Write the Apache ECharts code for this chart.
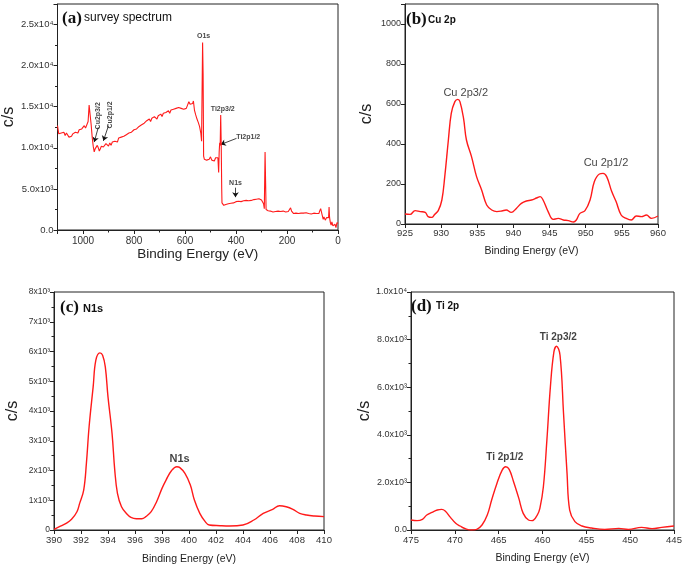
<!DOCTYPE html>
<html><head><meta charset="utf-8">
<script src="https://cdn.jsdelivr.net/npm/echarts@6/dist/echarts.min.js"></script>
<style>html,body{margin:0;padding:0;background:#fff}#c{width:685px;height:571px}</style>
</head><body><div id="c"></div>
<script>
// ---- Panel (a) survey spectrum: [binding energy eV, counts/s]
const surveyData = [[1100,12700],[1095,11700],[1090,11500],[1085,11800],[1080,11600],[1075,11900],[1070,11500],[1065,11800],[1060,11700],[1055,11300],[1050,11100],[1045,11400],[1040,11700],[1035,11500],[1030,11900],[1025,12000],[1020,11800],[1015,12200],[1010,12100],[1005,12300],[1000,12200],[995,12700],[990,12400],[985,12500],[980,13200],[976,15200],[972,14000],[968,12800],[964,11300],[960,10200],[956,9500],[952,9900],[948,10100],[944,10300],[940,10000],[936,9600],[932,9800],[928,10200],[924,10400],[920,10100],[915,9900],[910,10500],[905,10300],[900,10200],[895,10600],[890,10300],[885,10700],[880,10500],[875,10800],[870,10900],[865,10700],[860,11200],[855,11000],[850,11300],[845,11100],[840,11400],[835,11300],[830,11600],[825,11500],[820,11800],[815,11600],[810,11900],[805,11800],[800,12200],[795,12000],[790,12300],[785,12200],[780,12600],[775,12400],[770,12800],[765,12600],[760,13000],[755,12800],[750,13300],[745,13100],[740,13500],[735,13200],[730,13600],[725,13400],[720,13800],[715,13600],[710,13500],[705,13900],[700,13700],[695,14100],[690,13800],[685,14200],[680,14000],[675,14300],[670,14100],[665,14500],[660,14200],[655,14600],[650,14400],[645,14700],[640,14500],[635,14800],[630,14600],[625,14900],[620,14700],[615,14800],[610,15000],[605,14700],[600,14900],[595,14800],[590,15200],[585,15600],[580,15300],[575,15500],[570,15400],[567,15700],[563,14600],[558,14000],[553,13500],[548,13100],[543,12600],[538,11800],[535,10800],[533,17000],[531,22800],[529,19000],[527,9000],[524,8600],[520,8800],[515,8500],[510,8700],[505,8600],[500,8900],[495,8500],[490,8700],[485,8400],[480,8800],[475,8600],[471,8800],[468,7000],[466,9500],[464,10600],[462,10300],[460,14000],[458,10500],[456,5000],[455,3300],[452,3100],[448,3000],[445,3200],[440,3100],[435,3300],[430,3200],[425,3300],[420,3250],[415,3400],[410,3300],[405,3500],[400,3450],[395,3600],[390,3500],[385,3550],[380,3450],[375,3600],[370,3550],[365,3650],[360,3600],[355,3650],[350,3550],[345,3700],[340,3600],[335,3650],[330,3700],[325,3600],[320,3750],[315,3700],[310,3800],[305,3750],[300,3650],[296,3600],[292,3200],[289,2600],[286,9500],[284,6000],[282,2500],[278,2300],[274,2350],[270,2200],[265,2300],[260,2250],[255,2200],[250,2300],[245,2250],[240,2200],[235,2300],[230,2150],[225,2250],[220,2200],[215,2300],[210,2150],[205,2200],[200,2350],[195,2250],[190,2400],[186,2700],[182,2300],[178,2100],[174,2000],[170,2150],[165,2050],[160,2100],[155,2000],[150,2150],[145,2050],[140,2100],[135,2050],[130,2000],[125,2100],[120,2050],[115,2000],[110,2050],[105,1950],[100,2000],[95,2050],[90,1950],[85,2000],[80,1950],[75,2000],[72,2300],[68,2600],[65,2200],[62,1800],[58,1300],[55,1600],[50,1200],[45,1500],[40,1700],[37,1500],[35,2800],[33,1500],[30,900],[27,600],[24,1000],[20,500],[16,400],[12,700],[8,300],[4,900],[0,800]];

// ---- Panel (b) Cu 2p
const cuData = [[925,50],[925.7,48],[926.4,67],[927.1,62],[927.8,58],[928.2,37],[928.7,33],[929.1,48],[929.6,67],[930.1,120],[930.5,237],[931,420],[931.4,553],[931.9,612],[932.3,623],[932.6,612],[933.1,528],[933.5,420],[934.2,337],[934.9,237],[935.6,170],[936.3,95],[937,70],[937.7,62],[938.4,65],[939.0,70],[939.7,58],[940.4,78],[941.1,103],[941.8,115],[942.5,120],[943.2,130],[943.7,137],[944.1,120],[944.8,62],[945.5,23],[946.2,28],[946.9,20],[947.6,17],[948.3,10],[948.7,20],[949.2,53],[949.9,67],[950.6,120],[951.2,212],[951.9,250],[952.4,253],[952.9,237],[953.6,162],[954.2,112],[954.9,45],[955.6,28],[956.3,20],[957.0,40],[957.7,37],[958.4,45],[959.1,28],[960,40]];

// ---- Panel (c) N1s
const nData = [[390,22],[390.4,110],[390.9,224],[391.3,358],[391.7,615],[391.9,895],[392.2,1343],[392.4,2238],[392.6,3470],[392.9,4810],[393.1,5707],[393.4,5953],[393.6,5875],[393.8,5483],[394.0,4476],[394.3,3245],[394.5,2014],[394.7,1231],[395.0,783],[395.4,537],[395.7,425],[396.1,380],[396.5,380],[396.8,448],[397.2,615],[397.6,951],[398.0,1399],[398.3,1679],[398.7,1992],[399.1,2126],[399.3,2104],[399.7,1902],[400.1,1511],[400.4,1007],[400.8,560],[401.2,280],[401.5,168],[402.3,145],[403.0,134],[404.0,168],[404.8,336],[405.5,560],[406.2,694],[406.7,817],[407.2,783],[407.7,694],[408.2,560],[408.7,504],[409.3,470],[410,448]];

// ---- Panel (d) Ti 2p
const tiData = [[475,420],[474.3,392],[473.7,448],[473.2,629],[472.6,741],[472.0,839],[471.5,867],[471.1,797],[470.5,531],[469.9,280],[469.4,168],[468.8,56],[468.1,0],[467.5,28],[466.9,210],[466.3,629],[465.8,1259],[465.2,1958],[464.6,2517],[464.2,2657],[463.8,2545],[463.3,2028],[462.7,1329],[462.2,699],[461.6,420],[461.2,392],[460.6,629],[460.3,909],[459.9,1818],[459.5,3776],[459.1,6014],[458.7,7482],[458.4,7720],[458.0,7343],[457.6,4895],[457.2,2378],[456.9,839],[456.3,350],[455.5,168],[454.4,84],[452.9,28],[451.3,70],[450.2,28],[448.7,112],[447.5,56],[446.4,112],[445,168]];

// ---- tick labels
const yLabelsA = {0:'0.0',5000:'5.0x10³',10000:'1.0x10⁴',15000:'1.5x10⁴',20000:'2.0x10⁴',25000:'2.5x10⁴'};
const yLabelsB = {0:'0',200:'200',400:'400',600:'600',800:'800',1000:'1000'};
const yLabelsC = {0:'0',1000:'1x10³',2000:'2x10³',3000:'3x10³',4000:'4x10³',5000:'5x10³',6000:'6x10³',7000:'7x10³',8000:'8x10³'};
const yLabelsD = {0:'0.0',2000:'2.0x10³',4000:'4.0x10³',6000:'6.0x10³',8000:'8.0x10³',10000:'1.0x10⁴'};

// ---- annotations: [x, y, text]
const annotA = [[527,23550,'O1s'],[452,14700,'Ti2p3/2'],[352,11350,'Ti2p1/2'],[402,5730,'N1s']];
const annotARot = [[940,13900,'Cu2p3/2'],[893,14000,'Cu2p1/2']];
const arrowsA = [[[398,11150],[460,10400]],[[402,5150],[402,4000]],[[940,12500],[956,10700]],[[900,12700],[920,10850]]];
const annotB = [[933.4,655,'Cu 2p3/2'],[952.8,305,'Cu 2p1/2']];
const annotC = [[399.3,2390,'N1s']];
const annotD = [[458.2,8110,'Ti 2p3/2'],[464.3,3070,'Ti 2p1/2']];

const FONT = 'Liberation Sans, Arial, sans-serif';
const RED = '#ff1a1a';
const chart = echarts.init(document.getElementById('c'), null, {renderer:'canvas'});

const grids = [
  {left:56, top:4, width:282, height:226},
  {left:405, top:4, width:253, height:220},
  {left:54, top:292, width:270, height:238},
  {left:411, top:292, width:263, height:238}
].map(g => Object.assign({show:true, borderColor:'#222', borderWidth:1, backgroundColor:'transparent'}, g));

function xAx(i, min, max, interval, inverse, fs, nameFs, nameGap, minor, margin){
  return {gridIndex:i, type:'value', min, max, interval, inverse,
    name:'Binding Energy (eV)', nameLocation:'middle', nameGap,
    nameTextStyle:{fontFamily:FONT, fontSize:nameFs, color:'#222'},
    axisLine:{onZero:false, lineStyle:{color:'#222', width:1}},
    axisTick:{show:true, length:4, lineStyle:{color:'#222'}},
    minorTick:{show:!!minor, splitNumber:2, length:2.5, lineStyle:{color:'#222'}},
    splitLine:{show:false},
    axisLabel:{fontFamily:FONT, fontSize:fs, color:'#333', margin:margin,
      formatter:v => (Math.abs(v - Math.round(v/interval)*interval) < 1e-6 ? String(v) : '')}};
}
function yAx(i, min, max, interval, labels, fs, nameGap, minor){
  return {gridIndex:i, type:'value', min, max, interval,
    name:'c/s', nameLocation:'middle', nameGap, nameRotate:90,
    nameTextStyle:{fontFamily:FONT, fontSize:16, color:'#222'},
    axisLine:{show:true, onZero:false, lineStyle:{color:'#222', width:1}},
    axisTick:{show:true, length:4, lineStyle:{color:'#222'}},
    minorTick:{show:!!minor, splitNumber:2, length:2.5, lineStyle:{color:'#222'}},
    splitLine:{show:false},
    axisLabel:{fontFamily:FONT, fontSize:fs, color:'#333', margin:4,
      formatter:v => (labels[v] !== undefined ? labels[v] : '')}};
}

function lineSeries(i, data, smooth, w){
  return {type:'line', xAxisIndex:i, yAxisIndex:i, data, showSymbol:false, symbol:'none',
    smooth, lineStyle:{color:RED, width:w}, silent:true, animation:false};
}
function labelSeries(i, data, fs, bold, rotate){
  return {type:'scatter', xAxisIndex:i, yAxisIndex:i, data, symbolSize:0, silent:true, animation:false,
    label:{show:true, position:'inside', rotate:rotate||0, formatter:p=>p.value[2],
      fontFamily:FONT, fontSize:fs, fontWeight:bold?'bold':'normal', color:'#111'}};
}

const option = {
  animation:false,
  grid:grids,
  xAxis:[
    xAx(0, 0, 1100, 200, true, 10, 13.5, 15, true, 6),
    xAx(1, 925, 960, 5, false, 9.5, 10.5, 22, false, 4),
    xAx(2, 390, 410, 2, false, 9.5, 10.5, 24, false, 5),
    xAx(3, 445, 475, 5, true, 9.5, 10.5, 23, false, 5)
  ],
  yAxis:[
    yAx(0, 0, 27500, 5000, yLabelsA, 9.5, 34, true),
    yAx(1, 0, 1100, 200, yLabelsB, 9, 30, false),
    yAx(2, 0, 8000, 1000, yLabelsC, 8.5, 33, true),
    yAx(3, 0, 10000, 2000, yLabelsD, 9, 36, true)
  ],
  series:[
    lineSeries(0, surveyData, false, 1.1),
    lineSeries(1, cuData, 0.4, 1.4),
    lineSeries(2, nData, 0.4, 1.4),
    lineSeries(3, tiData, 0.4, 1.4),
    labelSeries(0, annotA, 7, true),
    labelSeries(0, annotARot, 7, true, 90),
    {type:'lines', coordinateSystem:'cartesian2d', xAxisIndex:0, yAxisIndex:0, silent:true, animation:false,
      symbol:['none','arrow'], symbolSize:5,
      lineStyle:{color:'#111', width:0.8, opacity:1, curveness:0},
      data:arrowsA.map(a=>({coords:a}))},
    labelSeries(1, annotB, 11, false),
    labelSeries(2, annotC, 11, true),
    labelSeries(3, annotD, 10, true)
  ],
  graphic:[
    {type:'text', left:62, top:10, style:{text:'(a)', font:'bold 17px "Liberation Serif", serif', fill:'#111'}},
    {type:'text', left:84, top:12, style:{text:'survey spectrum', font:'12px "Liberation Sans", Arial, sans-serif', fill:'#111'}},
    {type:'text', left:406, top:11, style:{text:'(b)', font:'bold 17px "Liberation Serif", serif', fill:'#111'}},
    {type:'text', left:428, top:15, style:{text:'Cu 2p', font:'bold 10px "Liberation Sans", Arial, sans-serif', fill:'#111'}},
    {type:'text', left:60, top:299, style:{text:'(c)', font:'bold 17px "Liberation Serif", serif', fill:'#111'}},
    {type:'text', left:83, top:303, style:{text:'N1s', font:'bold 11px "Liberation Sans", Arial, sans-serif', fill:'#111'}},
    {type:'text', left:411, top:298, style:{text:'(d)', font:'bold 17px "Liberation Serif", serif', fill:'#111'}},
    {type:'text', left:436, top:301, style:{text:'Ti 2p', font:'bold 10px "Liberation Sans", Arial, sans-serif', fill:'#111'}}
  ]
};
chart.setOption(option);
</script>
</body></html>
